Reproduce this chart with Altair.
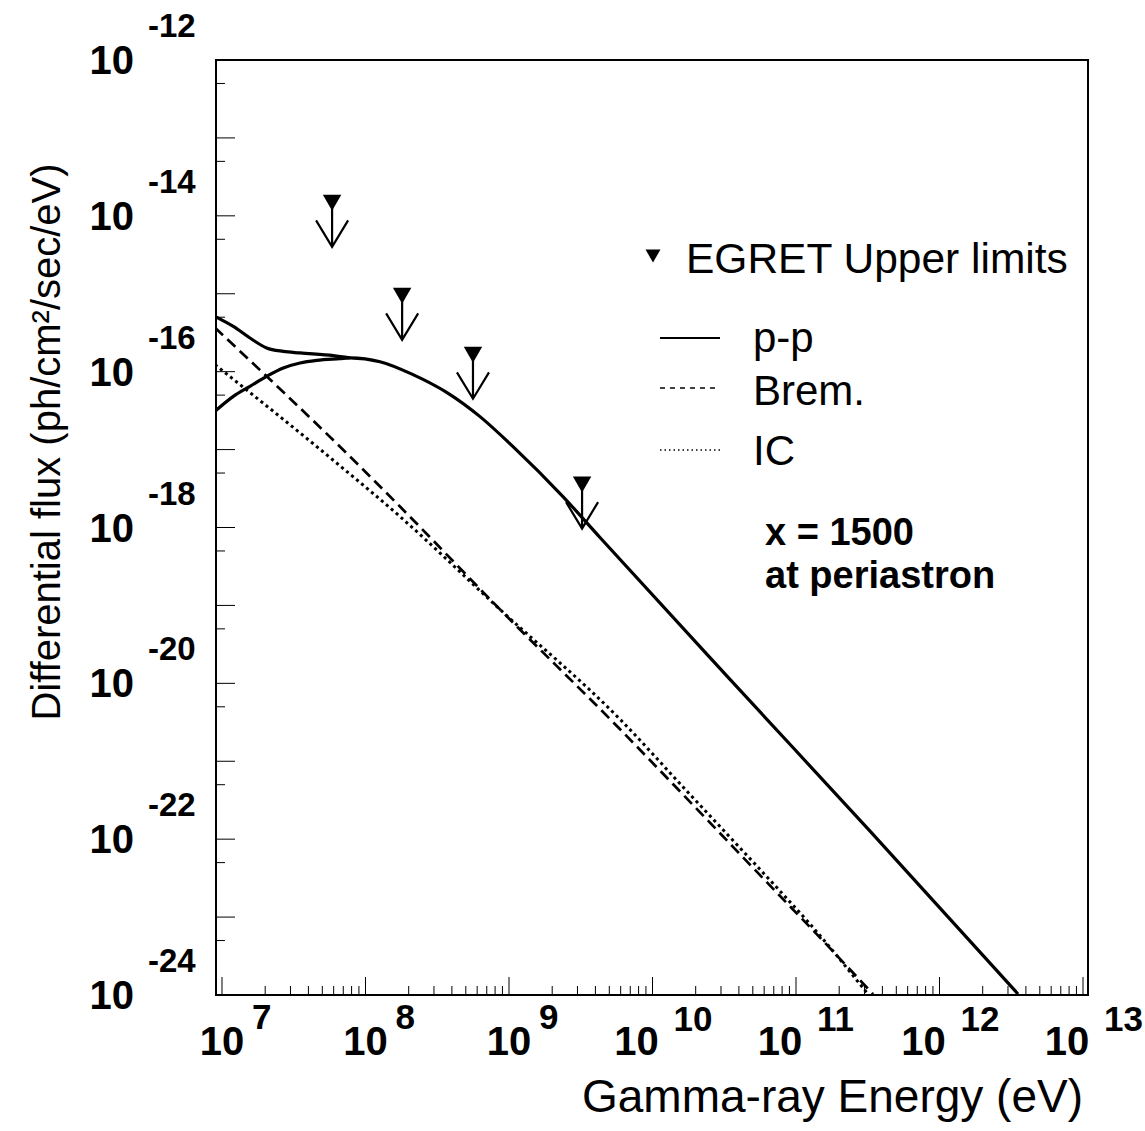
import altair as alt
import pandas as pd

# ---------------- data ----------------
# log10(E [eV]) and log10(flux) samples along each curve
total_logE = [6.951, 7.079, 7.195, 7.311, 7.427, 7.544, 7.776, 7.892]
total_logF = [-15.291, -15.419, -15.568, -15.696, -15.740, -15.760, -15.795, -15.824]

pp_logE = [6.951, 7.079, 7.195, 7.311, 7.427, 7.544, 7.660, 7.822, 7.892,
           8.101, 8.331, 8.568, 8.798, 9.028, 9.376, 9.634, 10.540, 11.516, 12.547]
pp_logF = [-16.509, -16.317, -16.188, -16.060, -15.953, -15.889, -15.855, -15.833, -15.824,
           -15.872, -16.038, -16.269, -16.577, -16.962, -17.603, -18.128, -19.949, -21.897, -23.987]

brem_logE = [6.951, 7.913, 8.240, 8.937, 9.774, 10.240, 10.889, 11.098, 11.537]
brem_logF = [-15.436, -17.128, -17.731, -19.051, -20.590, -21.480, -22.730, -23.130, -23.990]

ic_logE = [6.951, 7.753, 8.240, 8.937, 9.774, 10.240, 10.889, 11.098, 11.502]
ic_logF = [-15.910, -17.103, -17.859, -19.051, -20.462, -21.385, -22.667, -23.090, -23.990]

# EGRET upper limits
egret_E = [5.85e7, 1.80e8, 5.61e8, 3.23e9]
egret_F = [1.47e-14, 9.42e-16, 1.65e-16, 3.56e-18]

# axes
x_label_exps = [7, 8, 9, 10, 11, 12, 13]
y_label_exps = [-12, -14, -16, -18, -20, -22, -24]
x_major_ticks = [10.0 ** e for e in range(7, 14)]
x_minor_ticks = [k * 10.0 ** e for e in range(7, 13) for k in range(2, 10)]
y_major_ticks = [10.0 ** e for e in range(-24, -11)]
y_minor_ticks = [5 * 10.0 ** e for e in range(-24, -12)]

legend_labels = ["EGRET Upper limits", "p-p", "Brem.", "IC"]
note_lines = ["x = 1500", "at periastron"]
x_title = "Gamma-ray Energy (eV)"
y_title = "Differential flux (ph/cm\u00b2/sec/eV)"

# ---------------- chart ----------------
W, H = 872, 935
FONT = "Liberation Sans"
xs = alt.Scale(type="log", domain=[10 ** 6.9582, 10 ** 13.0348], nice=False)
ys = alt.Scale(type="log", domain=[1e-24, 1e-12], nice=False)
X = alt.X("E:Q", scale=xs, axis=None)
Y = alt.Y("F:Q", scale=ys, axis=None)


def curve(name, le, lf):
    return pd.DataFrame({"series": name, "E": [10 ** v for v in le], "F": [10 ** v for v in lf]})


solid = alt.Chart(pd.concat([curve("total", total_logE, total_logF),
                             curve("pp", pp_logE, pp_logF)])).mark_line(
    color="black", strokeWidth=3.2, interpolate="monotone", clip=True
).encode(x=X, y=Y, detail="series:N")

brem = alt.Chart(curve("brem", brem_logE, brem_logF)).mark_line(
    color="black", strokeWidth=2.7, strokeDash=[11, 6], interpolate="monotone", clip=True
).encode(x=X, y=Y)

ic = alt.Chart(curve("ic", ic_logE, ic_logF)).mark_line(
    color="black", strokeWidth=3, strokeDash=[3, 3.5], interpolate="monotone", clip=True
).encode(x=X, y=Y)

egret = pd.DataFrame({"E": egret_E, "F": egret_F})
arrows = alt.Chart(egret).mark_point(
    shape="M0,0L0,1M-0.364,0.40L0,1L0.364,0.40", size=7744, filled=False,
    color="black", strokeWidth=2.2, opacity=1
).encode(x=X, y=Y)
tris = alt.Chart(egret).mark_point(
    shape="triangle-down", size=340, filled=True, color="black", opacity=1
).encode(x=X, y=Y)

# ticks
xmaj = alt.Chart(pd.DataFrame({"E": x_major_ticks})).mark_rule(color="black", strokeWidth=1).encode(
    x=X, y=alt.value(H), y2=alt.value(H - 18))
xmin = alt.Chart(pd.DataFrame({"E": x_minor_ticks})).mark_rule(color="black", strokeWidth=1).encode(
    x=X, y=alt.value(H), y2=alt.value(H - 9))
ymaj = alt.Chart(pd.DataFrame({"F": y_major_ticks})).mark_rule(color="black", strokeWidth=1).encode(
    y=Y, x=alt.value(0), x2=alt.value(19))
ymin = alt.Chart(pd.DataFrame({"F": y_minor_ticks})).mark_rule(color="black", strokeWidth=1).encode(
    y=Y, x=alt.value(0), x2=alt.value(9))

# tick labels
xl = alt.Chart(pd.DataFrame({"exp": x_label_exps})).transform_calculate(
    E="pow(10, datum.exp)", txt="'' + datum.exp")
base_style = dict(font=FONT, fontWeight="bold", color="black")
xl_base1 = xl.transform_filter("datum.exp < 10").mark_text(
    text="10", fontSize=40, align="center", baseline="alphabetic", **base_style
).encode(x=X, y=alt.value(995))
xl_base2 = xl.transform_filter("datum.exp >= 10").mark_text(
    text="10", fontSize=40, align="center", baseline="alphabetic", dx=-16, **base_style
).encode(x=X, y=alt.value(995))
xl_exp1 = xl.transform_filter("datum.exp < 10").mark_text(
    fontSize=35, align="left", baseline="alphabetic", dx=30, **base_style
).encode(x=X, y=alt.value(969), text="txt:N")
xl_exp2 = xl.transform_filter("datum.exp >= 10").mark_text(
    fontSize=35, align="left", baseline="alphabetic", dx=21, **base_style
).encode(x=X, y=alt.value(971), text="txt:N")

yl = alt.Chart(pd.DataFrame({"exp": y_label_exps})).transform_calculate(
    F="pow(10, datum.exp)", txt="'' + datum.exp")
yl_base = yl.mark_text(text="10", fontSize=40, align="right", baseline="alphabetic", dy=14,
                       **base_style).encode(y=Y, x=alt.value(-82))
yl_exp = yl.mark_text(fontSize=33, align="left", baseline="alphabetic", dy=-23,
                      **base_style).encode(y=Y, x=alt.value(-68), text="txt:N")

one = pd.DataFrame({"d": [0]})


def label(text, x, y, size, weight="normal", align="left", angle=0):
    kw = dict(text=text, font=FONT, fontSize=size, fontWeight=weight, align=align,
              baseline="alphabetic", color="black")
    if angle:
        kw["angle"] = angle
    return alt.Chart(one).mark_text(**kw).encode(x=alt.value(x), y=alt.value(y))


titles = [
    label(x_title, 867, 1052, 46, align="right"),
    label(y_title, -156, 382, 40, align="center", angle=270),
]

# legend
leg = [
    alt.Chart(one).mark_point(shape="triangle-down", size=225, filled=True, color="black",
                              opacity=1).encode(x=alt.value(437), y=alt.value(196)),
    label(legend_labels[0], 470, 213, 42.5),
    alt.Chart(one).mark_rule(color="black", strokeWidth=2).encode(
        x=alt.value(444), x2=alt.value(504), y=alt.value(278)),
    label(legend_labels[1], 537, 292, 42),
    alt.Chart(one).mark_rule(color="black", strokeWidth=1.5, strokeDash=[5, 5]).encode(
        x=alt.value(444), x2=alt.value(504), y=alt.value(328)),
    label(legend_labels[2], 537, 345, 42),
    alt.Chart(one).mark_rule(color="black", strokeWidth=1.5, strokeDash=[1.5, 3]).encode(
        x=alt.value(444), x2=alt.value(504), y=alt.value(390)),
    label(legend_labels[3], 537, 405, 42),
    label(note_lines[0], 549, 485, 38, weight="bold"),
    label(note_lines[1], 549, 528, 38, weight="bold"),
]

chart = alt.layer(
    xmin, xmaj, ymin, ymaj, ic, brem, solid, arrows, tris,
    xl_base1, xl_base2, xl_exp1, xl_exp2, yl_base, yl_exp, *titles, *leg
).properties(
    width=W, height=H,
    padding={"left": 216, "top": 60, "right": 57, "bottom": 136},
    autosize=alt.AutoSizeParams(type="none"),
    background="white",
).configure_view(stroke="black", strokeWidth=2)

chart.save("out.html", embed_options={"renderer": "svg", "actions": False})
